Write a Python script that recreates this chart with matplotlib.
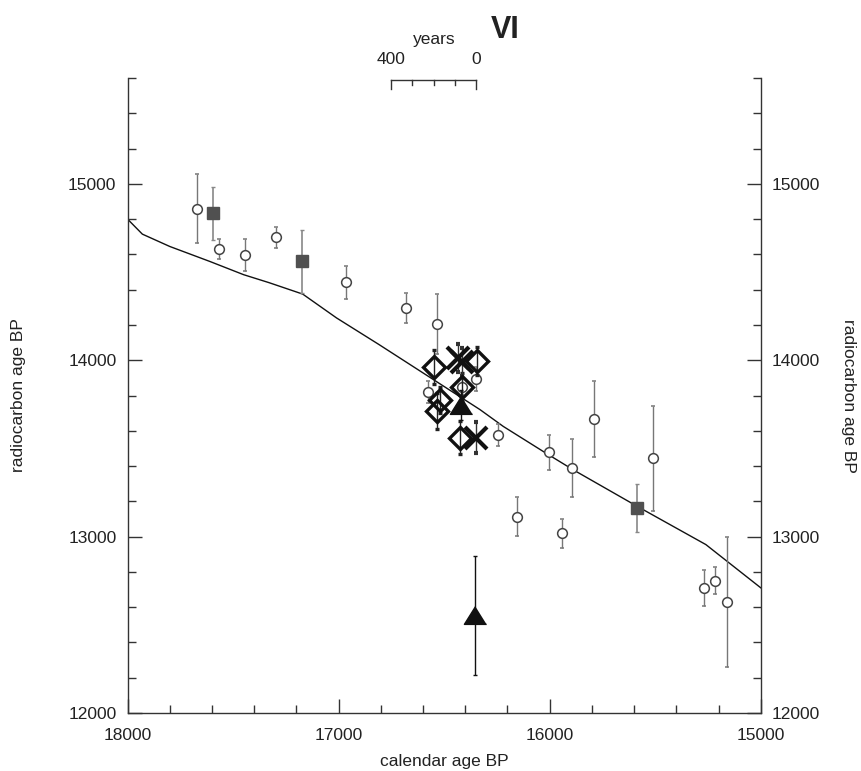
import numpy as np
import matplotlib
matplotlib.use("Agg")
import matplotlib.pyplot as plt

plt.rcParams['font.family'] = ['Liberation Sans', 'DejaVu Sans']

# calibration curve
curve_cal = [18000, 17930, 17800, 17610, 17450, 17330, 17170, 17010, 16810,
             16330, 16220, 16020, 15890, 15590, 15260, 15000]
curve_c14 = [14800, 14715, 14645, 14560, 14485, 14440, 14375, 14240, 14090,
             13720, 13625, 13475, 13380, 13175, 12955, 12710]

# open circles
circ_cal = [17669, 17565, 17445, 17295, 16964, 16683, 16535, 16577, 16348, 16415,
            16243, 16156, 16002, 15942, 15892, 15792, 15510, 15268, 15216, 15159]
circ_c14 = [14860, 14631, 14595, 14696, 14442, 14296, 14205, 13820, 13895, 13850,
            13574, 13112, 13479, 13018, 13390, 13668, 13444, 12709, 12751, 12630]
circ_err = [195, 58, 90, 60, 95, 85, 170, 65, 68, 45,
            62, 110, 99, 82, 165, 215, 298, 104, 76, 370]

# filled squares
sq_cal = [17595, 17172, 15584]
sq_c14 = [14834, 14560, 13163]
sq_err = [150, 180, 138]

# open diamonds
dia_cal = [16547, 16519, 16535, 16345, 16415, 16424]
dia_c14 = [13962, 13775, 13713, 13994, 13848, 13561]
dia_err = [95, 75, 100, 80, 80, 95]

# crosses
x_cal = [16432, 16414, 16348]
x_c14 = [14012, 13990, 13560]
x_err = [80, 80, 88]

# filled triangles
tri_cal = [16422, 16353]
tri_c14 = [13748, 12553]
tri_err = [85, 340]

fig = plt.figure(figsize=(8.62, 7.71), dpi=100)
ax = fig.add_axes([0.148, 0.0752, 0.7345, 0.8236])

ax.plot(curve_cal, curve_c14, color='#111111', lw=1.0, zorder=2)

ax.errorbar(circ_cal, circ_c14, yerr=circ_err, fmt='o', ms=7, mfc='white',
            mec='#444444', mew=1.1, ecolor='#777777', elinewidth=1.0,
            capsize=1.6, capthick=1.0, zorder=3)
ax.errorbar(sq_cal, sq_c14, yerr=sq_err, fmt='s', ms=8.4, mfc='#505050',
            mec='#505050', ecolor='#888888', elinewidth=1.2,
            capsize=1.6, capthick=1.0, zorder=3)
ax.errorbar(dia_cal, dia_c14, yerr=dia_err, fmt='D', ms=11, mfc='none',
            mec='#111111', mew=2.4, ecolor='#222222', elinewidth=1.0,
            capsize=1.6, capthick=1.0, zorder=4)
ax.errorbar(x_cal, x_c14, yerr=x_err, fmt='x', ms=15.5, mec='#111111', mew=3.0,
            ecolor='#333333', elinewidth=1.0, capsize=1.6, capthick=1.0, zorder=4)
tri_marker = [(0, 0.8), (-1, -0.8), (1, -0.8)]
ax.errorbar(tri_cal, tri_c14, yerr=tri_err, fmt='none', ecolor='#111111',
            elinewidth=1.0, capsize=1.6, capthick=1.0, zorder=4)
ax.plot(tri_cal, tri_c14, ls='none', marker=tri_marker, ms=16, mfc='#111111',
        mec='#111111', zorder=5)

ax.set_xlim(18000, 15000)
ax.set_ylim(12000, 15600)
ax.set_xticks([18000, 17000, 16000, 15000])
ax.set_xticks(np.arange(15000, 18001, 200), minor=True)
ax.set_yticks([12000, 13000, 14000, 15000])
ax.set_yticks(np.arange(12000, 15601, 200), minor=True)

for s in ['left', 'bottom', 'right']:
    ax.spines[s].set_color('#333333')
    ax.spines[s].set_linewidth(1.0)
ax.spines['top'].set_visible(False)

ax.set_xlabel('calendar age BP', fontsize=12.5, color='#222222', labelpad=7.5)
ax.set_ylabel('radiocarbon age BP', fontsize=12.5, color='#222222', labelpad=30)

# second y label on the right
ax2 = ax.twinx()
ax2.set_ylim(ax.get_ylim())
ax2.set_yticks([])
for s in ax2.spines.values():
    s.set_visible(False)
ax2.set_ylabel('radiocarbon age BP', fontsize=12.5, color='#222222',
               rotation=270, labelpad=58, va='bottom')

ax.tick_params(which='both', direction='in', color='#333333',
               labelsize=12.5, labelcolor='#222222', left=True, right=True,
               top=False, bottom=True)
ax.tick_params(axis='y', which='both', labelleft=True, labelright=True)
ax.tick_params(which='major', length=10, width=1.0, pad=8)
ax.tick_params(axis='x', which='major', pad=11)
ax.tick_params(which='minor', length=5.5, width=1.0)

# scale bar of 400 years on top
trans = ax.get_xaxis_transform()
bar_x = [16750, 16650, 16550, 16450, 16350]
ax.plot([bar_x[0], bar_x[-1]], [0.997, 0.997], transform=trans, color='#333333',
        lw=1.0, clip_on=False)
for i, bx in enumerate(bar_x):
    low = 0.983 if i in (0, len(bar_x) - 1) else 0.989
    ax.plot([bx, bx], [0.997, low], transform=trans, color='#333333', lw=1.0,
            clip_on=False)
ax.text(16750, 1.029, '400', transform=trans, ha='center', va='center',
        fontsize=12.5, color='#222222')
ax.text(16350, 1.029, '0', transform=trans, ha='center', va='center',
        fontsize=12.5, color='#222222')
ax.text(16545, 1.060, 'years', transform=trans, ha='center', va='center',
        fontsize=12.5, color='#222222')
ax.text(16280, 1.075, 'VI', transform=trans, ha='left', va='center',
        fontsize=22, fontweight='bold', color='#222222')

fig.savefig('out.png', dpi=100)
